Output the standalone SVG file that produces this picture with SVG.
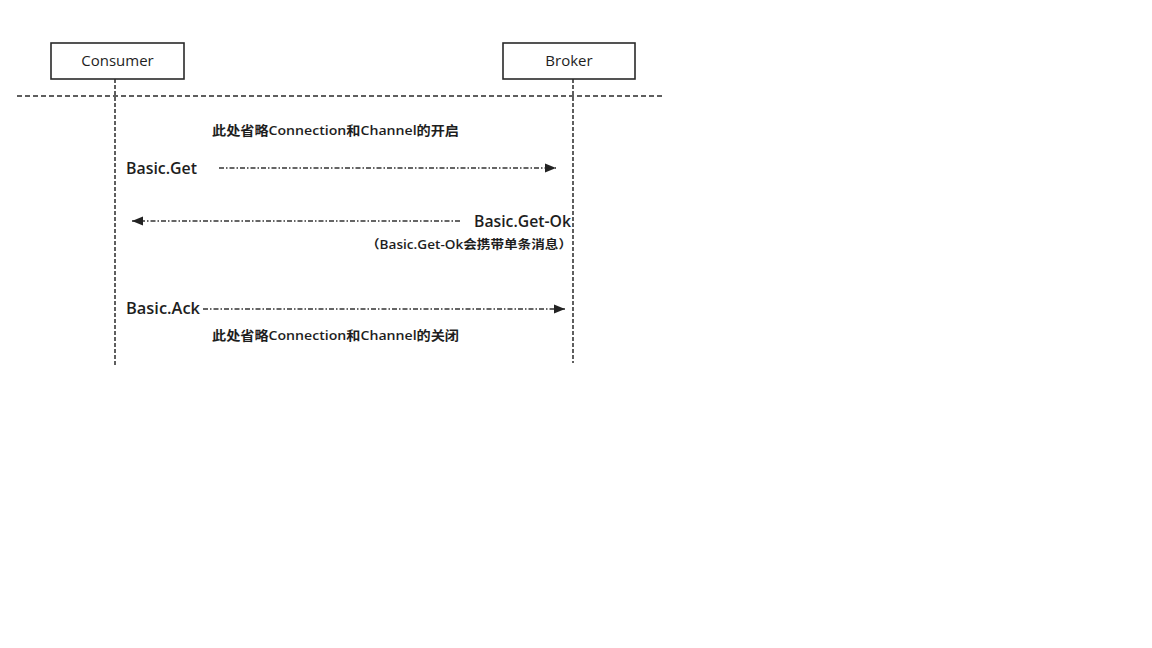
<svg xmlns="http://www.w3.org/2000/svg" width="1152" height="648" viewBox="0 0 1152 648">
<defs>
<style>
.box{fill:#fff;stroke:#2a2a2a;stroke-width:1.6}
.lbl{font-family:"Open Sans","Noto Sans CJK SC",sans-serif;fill:#1e1e1e}
.life{stroke:#2a2a2a;stroke-width:1.5;stroke-dasharray:4 2;fill:none}
.sep{stroke:#2a2a2a;stroke-width:1.3;stroke-dasharray:5 3;fill:none}
.msg{stroke:#333;stroke-width:1.3;stroke-dasharray:5 2 1.5 2;fill:none}
</style>
<marker id="ah" viewBox="0 0 10 10" refX="10" refY="5" markerWidth="11" markerHeight="11" markerUnits="userSpaceOnUse" orient="auto">
<path d="M0,1 L10,5 L0,9 Z" fill="#222"/>
</marker>
</defs>
<rect width="1152" height="648" fill="#fff"/>
<g id="connectors">
<line class="sep" x1="17" y1="96" x2="662" y2="96"/>
<line class="life" x1="115" y1="79" x2="115" y2="365"/>
<line class="life" x1="573" y1="79" x2="573" y2="363"/>
<line class="msg" x1="219" y1="168" x2="556" y2="168" marker-end="url(#ah)"/>
<line class="msg" x1="460" y1="221" x2="132" y2="221" marker-end="url(#ah)"/>
<line class="msg" x1="203" y1="309" x2="565" y2="309" marker-end="url(#ah)"/>
</g>
<g id="consumer">
<rect class="box" x="51" y="43" width="133" height="36"/>
<text class="lbl" x="117.5" y="66" font-size="15" text-anchor="middle">Consumer</text>
</g>
<g id="broker">
<rect class="box" x="503" y="43" width="132" height="36"/>
<text class="lbl" x="569" y="66" font-size="15" text-anchor="middle">Broker</text>
</g>
<g id="labels">
<text class="lbl" x="212" y="135" font-size="13" font-weight="600" textLength="247" lengthAdjust="spacingAndGlyphs">此处省略Connection和Channel的开启</text>
<text class="lbl" x="126" y="174" font-size="15.5" font-weight="600" textLength="71" lengthAdjust="spacingAndGlyphs">Basic.Get</text>
<text class="lbl" x="571" y="227" font-size="15.5" font-weight="600" text-anchor="end" textLength="97" lengthAdjust="spacingAndGlyphs">Basic.Get-Ok</text>
<text class="lbl" x="366" y="249" font-size="12" font-weight="600" textLength="206" lengthAdjust="spacingAndGlyphs">（Basic.Get-Ok会携带单条消息）</text>
<text class="lbl" x="126" y="314" font-size="15.5" font-weight="600" textLength="74" lengthAdjust="spacingAndGlyphs">Basic.Ack</text>
<text class="lbl" x="212" y="340" font-size="13" font-weight="600" textLength="247" lengthAdjust="spacingAndGlyphs">此处省略Connection和Channel的关闭</text>
</g>
</svg>
